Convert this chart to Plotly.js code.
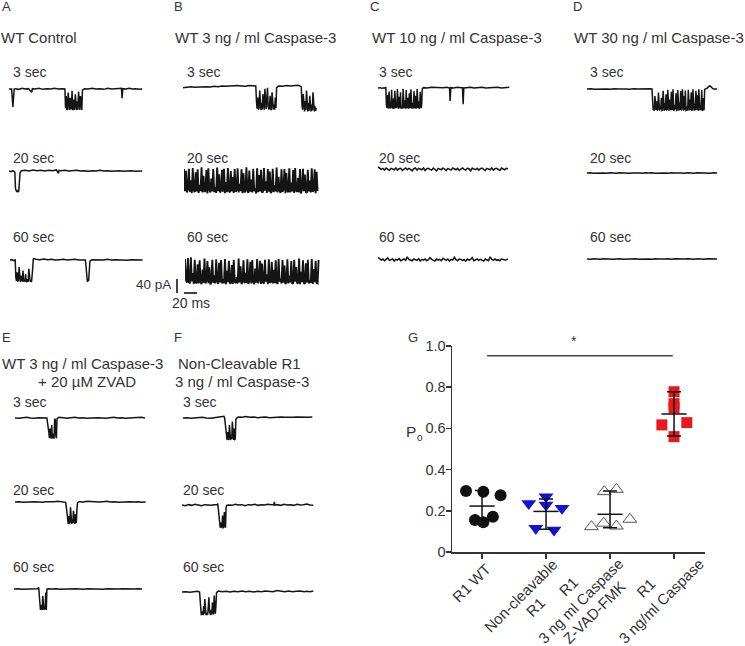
<!DOCTYPE html>
<html><head><meta charset="utf-8">
<script src="https://cdn.plot.ly/plotly-3.0.1.min.js"></script>
<style>html,body{margin:0;padding:0;background:#fff}#chart{width:745px;height:646px}</style>
</head><body><div id="chart"></div>
<script>
// ---------------- DATA ----------------
// Single-channel current traces: segments [start time (ms), sample interval (ms), currents (pA)]
const A3 = [[0,2,[0,1,0,-51,0]],[10,5,[1,-1,2,0,1]],[35,1,[-9,1]],[40,6,[0,2,-1,1,0,2,0,1]],
 [86,1,[0,-55,-20,-60,-58,-10,-57,-60,-25,-58,-55,-5,-60,-57,-30,-60,-15,-58,-60,-35,-59,-8,-57,-60,-20,-58,-60,-3]],
 [116,6,[1,0,2,0,1,-1,2,0,1,0]],[173,1,[2,-26,1]],[180,5,[0,2,0,1,-1,0]]];
const A20 = [[0,3,[0,-2,1,-3]],[10,1,[-50,-58,-60,-55,-60,-57,-40,-5]],[19,6,[1,2,0,3,1,2,0,2,1,3]],[76,1,[-7,2]],
 [80,6,[1,2,0,1,2,0,1,-1,1,0,2,0,1,-1,0,1,-1,0,1,-1,0]],[205,1,[0]]];
const A60 = [[0,3,[0,1,-2]],
 [8,1,[0,-50,-60,-35,-62,-58,-20,-60,-63,-45,-60,-62,-30,-61,-58,-62,-40,-60,-63,-55,-62,-25,-60,-62,-58,-63,-45,-2,4]],
 [40,6,[2,1,3,1,2,0,1,2,0,1,2,0,1]],[116,1,[0,-20,-50,-62,-58,-60,-30,-3]],[126,6,[1,0,1,0,2,0,1,0,1,-1,1,0,1]],[204,1,[0]]];
const B3 = [[0,6,[-2,0,1,-1,0,2,1,0,2,1,3,2,3,2,4,3,2,4,3]],
 [112,1,[3,-40,-62,-30,-65,-60,-10,-63,-66,-45,-64,-20,-62,-65,-5,-60,-63,-35,-2,-55,-64,-60,-25,-63,-66,-15,-62,-64,-50,-65,-30,-60,-2]],
 [147,6,[3,2,4,3,4,5]],
 [180,1,[3,1,0,-50,-65,-20,-68,-70,-40,-66,-10,-64,-70,-45,-68,-25,-66,-70,-50,-67,-15,-65,-70,-55,-68,-60]]];
const B20 = [[0,1.5,[-3,-66,-8,-70,-60,-2,-68,-35,-72,0,-64,-69,-12,-67,-4,-71,-48,-66,2,-70,
 -22,-68,-65,-6,-73,-1,-62,-70,-30,-67,-3,-69,-55,-71,1,-66,-18,-70,-64,-5,-68,-2,-72,-40,-69,0,-65,-70,-9,-67,
 -26,-71,-3,-68,-63,-1,-70,-45,-66,-4,-72,-15,-69,-67,2,-64,-71,-7,-68,-33,-70,-2,-66,-58,-73,-1,-69,-20,-67,-5,
 -70,-68,0,-65,-38,-71,-3,-68,-10,-72,-66,-2,-69,-50,-67,1,-70,-25,-64,-71,-4,-68,-61,-3,-72,-14,-66,-69,-1,-70,
 -42,-67,-6,-71,0,-65,-68,-28,-70,-3,-73,-62,-2,-66,-19,-69,-71,-5,-67,-36,-70,-1,-68,-64,-4,-72,-11,-66]]];
const B60 = [[0,1.5,[0,-60,-68,3,-66,-70,5,-64,-40,-71,-2,-67,-69,-15,-70,-4,-65,-72,-30,-68,
 1,-70,-62,-6,-69,-24,-73,-66,-2,-68,-47,-70,-1,-64,-71,-11,-67,-3,-70,-58,-69,0,-72,-34,-66,-5,-70,-68,-17,-71,
 -2,-65,-69,-52,-70,1,-67,-21,-72,-64,-4,-69,-39,-68,-1,-71,-63,-8,-70,-3,-66,-72,-27,-68,0,-69,-60,-5,-71,-13,
 -67,-70,-2,-65,-44,-72,-1,-68,-66,-9,-70,-31,-69,-4,-67,-71,0,-64,-56,-70,-3,-68,-19,-72,-66,-1,-70,-48,-67,-6,
 -71,-69,-2,-65,-23,-70,-68,1,-72,-37,-66,-4,-69,-71,-12,-67,-2,-70,-61,-68,0,-71,-29,-66,-5,-69,-70,-3]]];
const C3 = [[0,3,[0,1,-1,0,1]],
 [13,0.8,[-50,-57,-20,-58,-55,-10,-57,-59,-40,-56,-5,-58,-57,-30,-59,-55,-8,-57,-58,-45,
  -56,-3,-58,-59,-25,-57,-56,-12,-58,-57,-50,-59,-2,-56,-58,-35,-57,-59,-6,-58,
  -55,-28,-57,-59,-15,-56,-58,-4,-57,-59,-42,-58,-56,-9,-57,-59,-22,-58,-56,-3,
  -57,-58,-38,-59,-56,-11,-57,-58,-40,-2]],
 [70,6,[1,0,2,1,0,1,2]],[110,1,[0,-37,1]],[116,6,[0,2,1]],[130,1,[1,-46,0]],[136,6,[1,2,0,1,2,0,1,0,2,0,1,2]]];
const C20 = [[0,2.5,[3,0,-4,-1,-6,0,-3,-7,-1,-2,-5,0,-6,-2,-1,-7,-3,0,-5,-1,-4,-8,-2,0,-6,-1,-3,-5,0,-7,
 -2,-1,-4,-6,0,-3,-8,-1,-2,-5,0,-4,-7,-1,-3,-6,0,-2,-5,-1,-7,-3,0,-4,-6,-1,-2,-8,0,-3,
 -5,-1,-6,-2,0,-4,-7,-1,-3,-5,0,-6,-2,-1,-4,-7,0,-3,-5,-1,-2]]];
const C60 = [[0,2.5,[5,2,-3,0,-5,-1,3,-4,-2,0,-6,-1,-3,1,-5,-2,0,-4,6,-1,-3,-5,0,-2,-4,1,-6,-1,-3,0,
 -5,-2,4,-1,-4,-6,0,-3,-1,-5,2,-2,-4,0,-6,-1,-3,5,-2,-5,0,-1,-4,-2,-6,0,-3,-1,4,-5,
 -2,0,-4,-1,-3,-6,0,-2,-5,6,-1,-3,0,-4,-2,-5,0,-1,-3,-2,0]]];
const D3 = [[0,6,[0,1,-1,0,1,0,-1,1,0,1,0,-1,1,0,1,0,1]],
 [100,0.9,[0,-45,-60,-55,-62,-20,-58,-60,-35,-62,-59,-10,-60,-62,-48,-58,-25,-61,-60,-5,
  -59,-62,-40,-60,-15,-61,-58,-2,-60,-62,-30,-59,-61,-8,-60,-55,-1,-62,-60,-45,
  -58,-12,-61,-60,-3,-59,-62,-38,-60,-6,-61,-58,-1,-60,-62,-20,-59,-4,-61,-60,
  -50,-62,-2,-58,-61,-30,-60,-9,-62,-59,-1,-60,-62,-42,-61,-5,-58,-60,-18,-62,
  -1,-59,-61,-55,-60,-3,-62,-60,-26,-61,-2,0]],
 [184,1.5,[1,3,6,9,8,4,2,0,1,0]],[200,1,[0]]];
const D20 = [[0,5,[0,1,-1,0,1,0,-1,1,0,-1,1,0,1,-1,0,1,0,-1,1,0,1,-1,0,1,0,-1,1,0,1,0,-1,1,0,-1,1,0,1,0,-1,1,0]]];
const D60 = [[0,5,[0,-1,1,0,-1,1,0,1,-1,0,1,-1,0,1,0,1,-1,0,1,0,-1,1,0,-1,0,1,-1,1,0,-1,0,1,0,-1,1,0,-1,1,0,1,0]]];
const E3 = [[0,6,[0,-1,1,2,0,-1,1,0]],[46,3,[1,0]],
 [52,0.9,[-40,-58,-30,-57,-59,-20,-58,-55,-45,-59,-2,-5,-50,-58,-3,0]],
 [68,6,[2,0,-1,1,2,0,1,-1,0,2,1,0,-1,1,2,0,1,-1,0,1,0,2,0]]];
const E20 = [[0,6,[0,1,-1,0,2,1,0,-1,1,0,1,2,0,-1]],
 [80,0.9,[-30,-60,-63,-40,-62,-58,-15,-61,-63,-50,-60,-25,-62,-63,-35,-60,-58,-20,-2]],
 [99,6,[1,0,2,1,-1,0,1,2,0,1,-1,0,2,1,0,1,-1,0]]];
const E60 = [[0,6,[0,1,-1,0,1,0,1]],
 [38,0.9,[4,-30,-58,-60,-45,-59,-60,-20,-57,-60,-50,-58,-10,-60,0]],
 [53,6,[1,0,1,-1,0,1,0,1,0,-1,1,0,1,0,-1,1,0,1,0,1,0,1,0,1,0]]];
const F3 = [[0,6,[0,1,-1,0,1,2,0,-1,1,2,3]],[63,1,[5,1]],
 [66,0.9,[-35,-62,-63,-40,-60,-63,-20,-61,-63,-55,-60,-10,-62,-63,-30,-61,-60,-5,-1]],
 [85,6,[3,2,4,2,3,1,2,3,1,2,1,3,2,1,2,3,2,1,2,3]]];
const F20 = [[0,5,[0,-2,1,-1,2,0,-2,1,0,-1,1]],[54,1,[1,4]],
 [57,0.9,[-40,-64,-65,-50,-63,-62,-30,-65,-64,-20,-62,-65,-8,-1]],
 [72,5,[0,-1,2,0,1,-2,1,0,2,-1,1,0,2,1]],[141,1,[0,9,0]],[147,5,[1,-1,2,0,1,-1,2,0,1,3,0,-1]]];
const F60 = [[0,6,[0,1,-1,0,2]],
 [27,0.9,[0,-30,-60,-66,-55,-64,-66,-40,-62,-20,-50,-64,-66,-60,-65,-45,-15,-55,-65,-66,-50,-64,-30,-60,-64,-10,-55,-62,-40,-2]],
 [56,6,[3,1,2,0,2,1,3,1,2,0,2,1,3,2,1,4,2,1,3,1,2,3,1]],[192,5,[2,1,3]]];

// Scale bars
const scalePA = 40, scaleMs = 20;

// Panel G: open probability
const groupLines = [['R1 WT'],['Non-cleavable','R1'],['R1','3 ng ml Caspase','Z-VAD-FMK'],['R1','3 ng/ml Caspase']];
const poWT   = [0.296,0.293,0.275,0.155,0.171,0.144];
const poNC   = [0.236,0.268,0.228,0.212,0.115,0.107];
const poZVAD = [0.123,0.140,0.293,0.304,0.126,0.159];
const poCasp = [0.778,0.720,0.700,0.617,0.628,0.560];
const poMean = [0.223,0.197,0.183,0.670];
const poHigh = [0.298,0.257,0.296,0.778];
const poLow  = [0.148,0.110,0.118,0.563];
const sigLevel = 0.953;

// ---------------- LAYOUT / STYLE ----------------
const W = 745, H = 646, PXMS = 0.65, PXPA = 0.35;
const INK = '#141414', TXT = '#333333';
const FONT = 'Liberation Sans, Arial, Helvetica, sans-serif';
const traceData = {A3,A20,A60,B3,B20,B60,C3,C20,C60,D3,D20,D60,E3,E20,E60,F3,F20,F60};
// pixel position of t=0 and 0 pA for each trace
const tracePos = {
 A3:[9,89], A20:[9,171], A60:[10,260],
 B3:[183,87], B20:[184,168], B60:[185,259],
 C3:[378,88], C20:[378,168], C60:[378,259],
 D3:[587,89], D20:[587,173], D60:[587,259],
 E3:[15,418], E20:[15,502], E60:[14,589],
 F3:[183,418], F20:[182,505], F60:[182,592]};
const denseTraces = ['B20','B60'];
// jitter of dot plot points (category units)
const jitWT = [-0.25,0.02,0.29,-0.11,0.17,0.02];
const jitNC = [-0.27,0.0,0.0,0.25,-0.16,0.125];
const jitZV = [-0.29,-0.10,-0.09,0.10,0.10,0.31];
const jitCA = [0.0,0.0,0.0,-0.19,0.20,0.0];

function expand(segs){
  const t=[], v=[];
  segs.forEach(([t0,dt,vals])=>vals.forEach((val,k)=>{t.push(t0+k*dt); v.push(val);}));
  return {t,v};
}

const data = [];
const layout = {
  width:W, height:H, margin:{l:0,r:0,t:0,b:0}, showlegend:false,
  paper_bgcolor:'#fff', plot_bgcolor:'rgba(0,0,0,0)',
  font:{family:FONT, color:TXT, size:14},
  annotations:[], shapes:[]
};

let n = 0;
Object.keys(traceData).forEach(name=>{
  n++;
  const [x0,yb] = tracePos[name];
  const {t,v} = expand(traceData[name]);
  const xa = n===1?'x':'x'+n, ya = n===1?'y':'y'+n;
  data.push({type:'scatter', mode:'lines', x:t, y:v, xaxis:xa, yaxis:ya,
    line:{color:INK, width: denseTraces.includes(name) ? 1.9 : 1.5}, hoverinfo:'skip'});
  layout[n===1?'xaxis':'xaxis'+n] = {domain:[x0/W,(x0+210*PXMS)/W], range:[0,210], visible:false, fixedrange:true, anchor:ya};
  layout[n===1?'yaxis':'yaxis'+n] = {domain:[1-(yb+32)/H,1-(yb-12)/H], range:[-32/PXPA,12/PXPA], visible:false, fixedrange:true, anchor:xa};
});

// scale bar axis (n=19)
n++;
const sbX = 177, sbY = 293;
layout['xaxis'+n] = {domain:[170/W,212/W], range:[(170-sbX)/PXMS,(212-sbX)/PXMS], visible:false, anchor:'y'+n};
layout['yaxis'+n] = {domain:[1-297/H,1-275/H], range:[(sbY-297)/PXPA,(sbY-275)/PXPA], visible:false, anchor:'x'+n};
const hOff = (184-sbX)/PXMS;
data.push({type:'scatter', mode:'lines', x:[0,0], y:[0,scalePA], xaxis:'x'+n, yaxis:'y'+n, line:{color:INK,width:1.6}, hoverinfo:'skip'});
data.push({type:'scatter', mode:'lines', x:[hOff,hOff+scaleMs], y:[0,0], xaxis:'x'+n, yaxis:'y'+n, line:{color:INK,width:1.6}, hoverinfo:'skip'});

// Panel G axes (n=20)
n++;
const gx = 'x'+n, gy = 'y'+n;
layout['xaxis'+n] = {domain:[452/W,705/W], range:[-0.469,3.484], anchor:gy, showline:true, linecolor:'#333', linewidth:1.5,
  ticks:'outside', ticklen:5, tickwidth:1.5, tickcolor:'#333', tickvals:[0,1,2,3], showticklabels:false,
  showgrid:false, zeroline:false, fixedrange:true};
layout['yaxis'+n] = {domain:[1-552/H,1-346/H], range:[0,1], anchor:gx, showline:true, linecolor:'#333', linewidth:1.5,
  ticks:'outside', ticklen:5, tickwidth:1.5, tickcolor:'#333', tickvals:[0,0.2,0.4,0.6,0.8,1.0],
  ticktext:['0','0.2','0.4','0.6','0.8','1.0'], tickfont:{size:14.5, color:TXT}, ticklabelstandoff:-3,
  showgrid:false, zeroline:false, fixedrange:true};

const pts = [
  {v:poWT, j:jitWT, m:{symbol:'circle', size:12, color:'#111'}},
  {v:poNC, j:jitNC, m:{symbol:'triangle-down', size:13, color:'#1212d4'}},
  {v:poZVAD, j:jitZV, m:{symbol:'triangle-up', size:12, color:'#ffffff', line:{color:'#555', width:1}}},
  {v:poCasp, j:jitCA, m:{symbol:'square', size:11, color:'#e8191c'}}
];
pts.forEach((p,gi)=>{
  data.push({type:'scatter', mode:'markers', x:p.j.map(o=>gi+o), y:p.v, xaxis:gx, yaxis:gy, marker:p.m, cliponaxis:false, hoverinfo:'skip'});
});
data.push({type:'scatter', mode:'markers', x:[0,1,2,3], y:poMean, xaxis:gx, yaxis:gy, cliponaxis:false,
  marker:{symbol:'line-ew', size:18, line:{color:'#111', width:1.5}},
  error_y:{type:'data', symmetric:false, array:poHigh.map((h,i)=>h-poMean[i]), arrayminus:poMean.map((m,i)=>m-poLow[i]),
    width:7, thickness:1.5, color:'#111'}, hoverinfo:'skip'});

layout.shapes.push({type:'line', xref:gx, yref:gy, x0:0.08, x1:2.98, y0:sigLevel, y1:sigLevel, line:{color:'#444', width:1.5}});

// ---------------- TEXT ----------------
function lab(text, xpx, ypx, size, anchor){
  return {text, xref:'paper', yref:'paper', x:xpx/W, y:1-ypx/H, xanchor:anchor||'left', yanchor:'middle',
    showarrow:false, font:{size, color:TXT}};
}
const A = layout.annotations;
[['A',0,6.5],['B',172,6.5],['C',368,6.5],['D',571,6.5],['E',0,337],['F',172,337],['G',406,337.5]]
  .forEach(([t,x,y])=>A.push(lab(t,x,y,13)));
A.push(lab('WT Control',-1,37.5,15));
A.push(lab('WT 3 ng / ml Caspase-3',173,37.5,15));
A.push(lab('WT 10 ng / ml Caspase-3',370,37.5,15));
A.push(lab('WT 30 ng / ml Caspase-3',572,37.5,15));
A.push(lab('WT 3 ng / ml Caspase-3',82,363,15,'center'));
A.push(lab('+ 20 µM ZVAD',87,381,15,'center'));
A.push(lab('Non-Cleavable R1',240,363,15,'center'));
A.push(lab('3 ng / ml Caspase-3',241.5,381,15,'center'));
const rows = [['3 sec',72],['20 sec',157.5],['60 sec',236.5]];
[[11,rows],[185,rows],[377,rows],[588,rows]].forEach(([x,r])=>r.forEach(([t,y])=>A.push(lab(t,x,y,14))));
const rowsB = [['3 sec',401.7],['20 sec',490],['60 sec',566.7]];
[[11,rowsB],[181,rowsB]].forEach(([x,r])=>r.forEach(([t,y])=>A.push(lab(t,x,y,14))));
A.push(lab('40 pA',173,284.7,13.5,'right'));
A.push(lab('20 ms',190.5,303,14,'center'));
A.push(lab('P',404,431,15.5));
A.push(lab('o',414.5,438,10));
A.push({text:'*', xref:gx, x:1.44, yref:'paper', y:1-341/H, xanchor:'center', yanchor:'middle', showarrow:false, font:{size:14,color:TXT}});
// centres of each rotated tick-label line, in px
const tickLinePos = [
  [[471.7,582.5]],
  [[520.8,595.8],[535,607.5]],
  [[568.3,586.7],[580.7,600.2],[594,612.5]],
  [[645,588],[661.7,600.8]]];
const tickPx = [482,546,610,674];
groupLines.forEach((lines,i)=>{
  lines.forEach((ln,k)=>{
    const [cx,cy] = tickLinePos[i][k];
    A.push({text:ln, xref:gx, x:i, xshift:cx-tickPx[i], yref:'paper', y:1-cy/H, textangle:-45,
      xanchor:'center', yanchor:'middle', showarrow:false, font:{size:15, color:TXT}});
  });
});

Plotly.newPlot('chart', data, layout, {staticPlot:true, displayModeBar:false});
</script></body></html>
